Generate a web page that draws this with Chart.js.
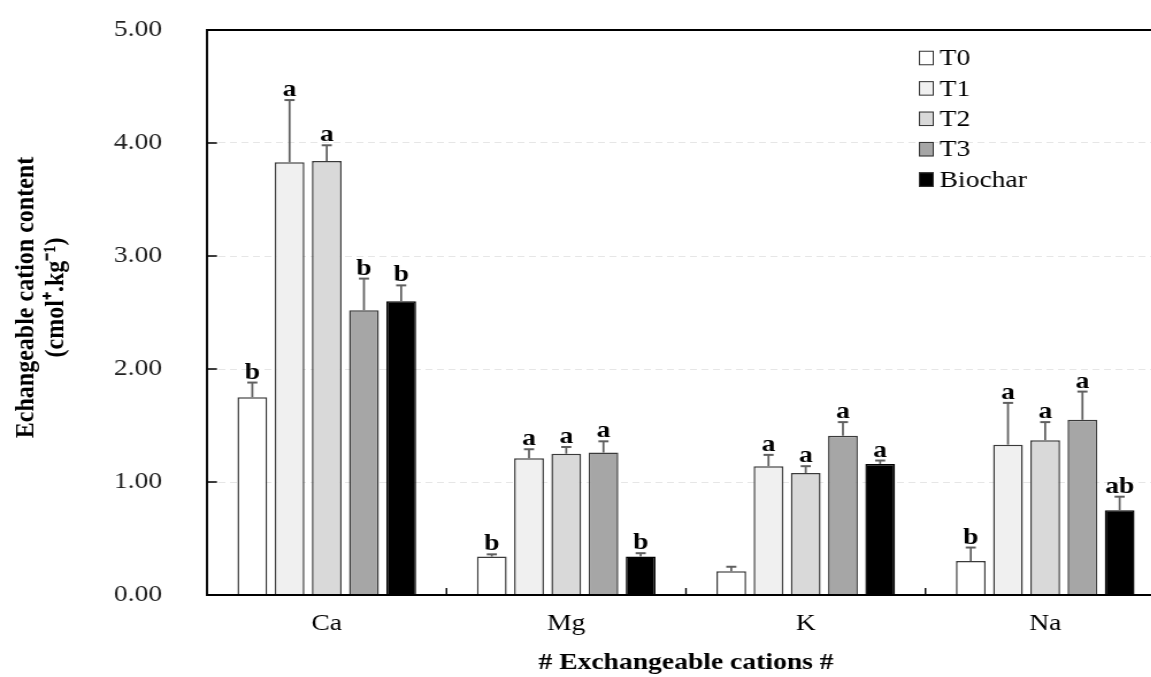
<!DOCTYPE html>
<html>
<head>
<meta charset="utf-8">
<script src="https://cdn.jsdelivr.net/npm/chart.js@4/dist/chart.umd.min.js"></script>
<style>
  html, body { margin: 0; padding: 0; background: #fff; overflow: hidden; width: 1151px; height: 677px; }
  #c { display: block; transform: scaleX(1.15); transform-origin: 0 0; }
</style>
</head>
<body>
<canvas id="c" width="1026" height="677"></canvas>
<script>
const categories = ['Ca', 'Mg', 'K', 'Na'];
const seriesNames = ['T0', 'T1', 'T2', 'T3', 'Biochar'];
const T0 = [1.75, 0.34, 0.21, 0.30];
const T1 = [3.83, 1.21, 1.14, 1.33];
const T2 = [3.84, 1.25, 1.08, 1.37];
const T3 = [2.52, 1.26, 1.41, 1.55];
const Biochar = [2.60, 0.34, 1.16, 0.75];
const T0err = [0.13, 0.02, 0.04, 0.12];
const T1err = [0.55, 0.08, 0.10, 0.37];
const T2err = [0.14, 0.06, 0.06, 0.16];
const T3err = [0.28, 0.10, 0.12, 0.25];
const BiocharErr = [0.14, 0.03, 0.03, 0.12];
const T0letters = ['b', 'b', '', 'b'];
const T1letters = ['a', 'a', 'a', 'a'];
const T2letters = ['a', 'a', 'a', 'a'];
const T3letters = ['b', 'a', 'a', 'a'];
const BiocharLetters = ['b', 'b', 'a', 'ab'];
const yTicks = [0, 1, 2, 3, 4, 5];

const fills = ['#ffffff', '#f0f0f0', '#d9d9d9', '#a6a6a6', '#000000'];
const borders = ['#3a3a3a', '#3a3a3a', '#3a3a3a', '#3a3a3a', '#000000'];
const values = [T0, T1, T2, T3, Biochar];
const errs = [T0err, T1err, T2err, T3err, BiocharErr];
const letters = [T0letters, T1letters, T2letters, T3letters, BiocharLetters];

const SERIF = '"Liberation Serif", "Times New Roman", serif';

const decor = {
  id: 'decor',
  afterDatasetsDraw(chart) {
    const ctx = chart.ctx;
    const area = chart.chartArea;
    const xs = chart.scales.x, ys = chart.scales.y;
    ctx.save();
    // error bars and letters
    chart.data.datasets.forEach((ds, di) => {
      const meta = chart.getDatasetMeta(di);
      meta.data.forEach((bar, i) => {
        const top = ys.getPixelForValue(ds.data[i] + errs[di][i]);
        const yv = ys.getPixelForValue(ds.data[i]);
        ctx.strokeStyle = '#5f5f5f';
        ctx.beginPath();
        ctx.lineWidth = 1.75;
        ctx.moveTo(bar.x, yv);
        ctx.lineTo(bar.x, top);
        ctx.stroke();
        ctx.beginPath();
        ctx.lineWidth = 2;
        ctx.moveTo(bar.x - 4.4, top);
        ctx.lineTo(bar.x + 4.4, top);
        ctx.stroke();
        const lt = letters[di][i];
        if (lt) {
          ctx.fillStyle = '#000';
          ctx.font = 'bold 24px ' + SERIF;
          ctx.textAlign = 'center';
          ctx.textBaseline = 'alphabetic';
          ctx.fillText(lt, bar.x, top - 4);
        }
      });
    });
    // frame: top line, left & bottom axes
    ctx.strokeStyle = '#000';
    ctx.lineWidth = 2;
    ctx.beginPath();
    ctx.moveTo(area.left, area.top);
    ctx.lineTo(chart.width, area.top);
    ctx.moveTo(area.left, area.bottom);
    ctx.lineTo(chart.width, area.bottom);
    ctx.stroke();
    ctx.lineWidth = 1.9;
    ctx.beginPath();
    ctx.moveTo(area.left, area.bottom + 1);
    ctx.lineTo(area.left, area.top - 1);
    ctx.stroke();
    // inward ticks on y
    ctx.lineWidth = 1.5;
    ctx.beginPath();
    yTicks.forEach(v => {
      const y = ys.getPixelForValue(v);
      ctx.moveTo(area.left, y);
      ctx.lineTo(area.left + 8.7, y);
    });
    ctx.stroke();
    // inward ticks on x at category boundaries
    ctx.lineWidth = 1.4;
    ctx.beginPath();
    for (let i = 0; i < categories.length - 1; i++) {
      const x = (xs.getPixelForValue(i) + xs.getPixelForValue(i + 1)) / 2;
      ctx.moveTo(x, area.bottom);
      ctx.lineTo(x, area.bottom - 7);
    }
    ctx.stroke();
    // legend
    const lx = 799, ly0 = 58, step = 30.4, bw = 13, bh = 14.5;
    seriesNames.forEach((name, k) => {
      const cy = ly0 + k * step;
      ctx.fillStyle = fills[k];
      ctx.fillRect(lx, cy - bh / 2, bw, bh);
      ctx.strokeStyle = '#333';
      ctx.lineWidth = 1;
      ctx.strokeRect(lx + 0.5, cy - bh / 2 + 0.5, bw - 1, bh - 1);
      ctx.fillStyle = '#000';
      ctx.font = '24px ' + SERIF;
      ctx.textAlign = 'left';
      ctx.textBaseline = 'middle';
      ctx.fillText(name, lx + 18, cy + 1);
    });
    ctx.restore();
  }
};

new Chart(document.getElementById('c'), {
  type: 'bar',
  data: {
    labels: categories,
    datasets: seriesNames.map((n, k) => ({
      label: n,
      data: values[k],
      backgroundColor: fills[k],
      borderColor: borders[k],
      borderWidth: 1.5,
      categoryPercentage: 0.777,
      barPercentage: 0.8
    }))
  },
  options: {
    responsive: false,
    devicePixelRatio: 1,
    animation: false,
    layout: { padding: { top: 30, right: 13, left: 0, bottom: 0 } },
    plugins: { legend: { display: false }, tooltip: { enabled: false } },
    scales: {
      y: {
        min: 0, max: 5,
        afterFit(s) { s.width = 180; s.paddingTop = 0; s.paddingBottom = 0; },
        afterBuildTicks(s) { s.ticks = yTicks.map(v => ({ value: v })); },
        grid: {
          drawTicks: false,
          color: (c) => (c.tick && (c.tick.value === 0 || c.tick.value === 5)) ? 'rgba(0,0,0,0)' : '#e6e6e6',
          lineWidth: 1
        },
        border: { display: false, dash: [6, 4] },
        ticks: {
          padding: 39,
          color: '#222',
          font: { family: SERIF, size: 24 },
          callback: (v) => Number(v).toFixed(2)
        },
        title: {
          display: true,
          text: ['     Echangeable cation content', '     (cmol\u207A.kg\u207B\u00B9)'],
          color: '#000',
          font: { family: SERIF, size: 24, weight: 'bold', lineHeight: 1.08 },
          padding: { top: 10, bottom: 0 }
        }
      },
      x: {
        afterFit(s) { s.height = 82; s.paddingLeft = 0; s.paddingRight = 0; },
        border: { display: false },
        grid: { display: false, drawTicks: false },
        ticks: {
          padding: 14,
          color: '#000',
          font: { family: SERIF, size: 24 }
        },
        title: {
          display: true,
          text: '# Exchangeable cations #',
          color: '#000',
          font: { family: SERIF, size: 24, weight: 'bold' },
          padding: { top: 0, bottom: 0 }
        }
      }
    }
  },
  plugins: [decor]
});
</script>
</body>
</html>
